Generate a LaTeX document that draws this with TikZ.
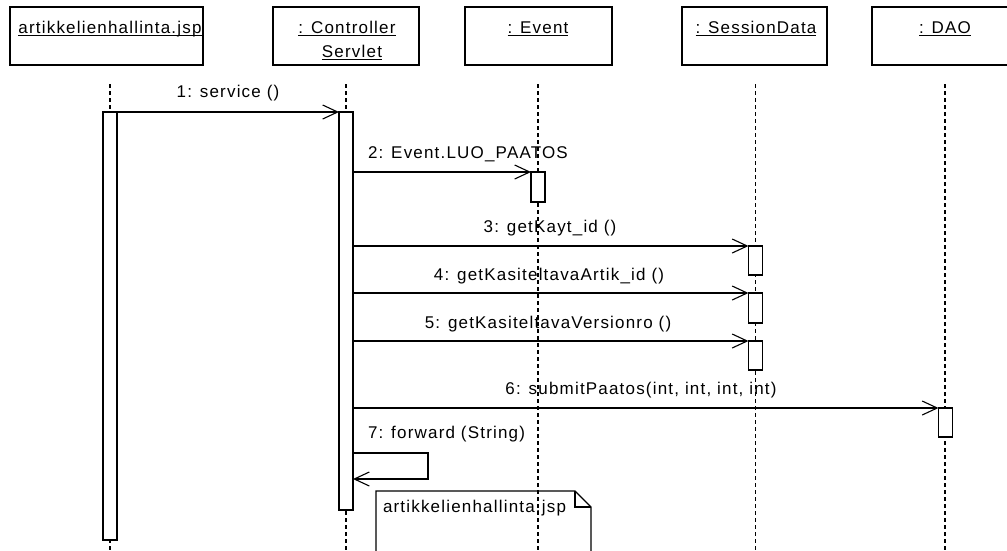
\documentclass[tikz,border=0pt]{standalone}
\usepackage{fontspec}
\newfontfamily\umlfont{Liberation Sans}[LetterSpace=7]
\usetikzlibrary{arrows.meta}
\begin{document}
\begin{tikzpicture}[x=1pt,y=-1pt,
  every node/.style={font=\umlfont\fontsize{17}{20}\selectfont, inner sep=0pt, outer sep=0pt},
  objbox/.style={draw, line width=1.1pt, minimum height=58pt},
  actbar/.style={draw, fill=white, line width=1.1pt, minimum width=14pt},
  lifeline/.style={line width=1.1pt, dash pattern=on 4pt off 3pt},
  msg/.style={line width=1.1pt, -{Straight Barb[length=15pt,width=14pt,line width=1.1pt]}},
  ulabel/.style={anchor=base},
  uline/.style={line width=0.9pt}]
% canvas
\fill[white] (0,0) rectangle (1007,550);
\clip (0,0) rectangle (1007,550);

% object boxes
\node[objbox, minimum width=193pt] (jspbox) at (106.5,36) {};
\node[objbox, minimum width=146pt] (csbox) at (346,36) {};
\node[objbox, minimum width=147pt] (evbox) at (538.5,36) {};
\node[objbox, minimum width=145pt] (sdbox) at (754.5,36) {};
\node[objbox, minimum width=146pt] (daobox) at (945,36) {};

% object names, underlined
\node[ulabel] (jspname) at (110,33) {artikkelienhallinta.jsp};
\node[ulabel] (csname1) at (347,33) {: Controller};
\node[ulabel] (csname2) at (352,57) {Servlet};
\node[ulabel] (evname) at (538,33) {: Event};
\node[ulabel] (sdname) at (756,33) {: SessionData};
\node[ulabel] (daoname) at (945,33) {: DAO};
\foreach \n in {jspname,csname1,csname2,evname,sdname,daoname}
  \draw[uline] ([yshift=-2.5pt]\n.base west) -- ([yshift=-2.5pt]\n.base east);

% lifelines
\coordinate (jspend) at (110,550);
\coordinate (csend) at (346,550);
\coordinate (evend) at (538,550);
\coordinate (sdend) at (755.5,550);
\coordinate (daoend) at (945,550);
\draw[lifeline] (110,84) -- (jspend);
\draw[lifeline] (346,84) -- (csend);
\draw[lifeline] (538,84) -- (evend);
\draw[lifeline] (755.5,84) -- (sdend);
\draw[lifeline] (945,84) -- (daoend);

% activation bars
\node[actbar, minimum height=428pt] (jspbar) at (110,326) {};
\node[actbar, minimum height=398pt] (csbar) at (346,311) {};
\node[actbar, minimum height=30pt] (evbar) at (538,187) {};
\node[actbar, minimum height=29pt] (sdbarA) at (755.5,260.5) {};
\node[actbar, minimum height=30pt] (sdbarB) at (755.5,308) {};
\node[actbar, minimum height=29pt] (sdbarC) at (755.5,355.5) {};
\node[actbar, minimum height=29pt] (daobar) at (945.5,422.5) {};

% messages
\draw[msg] (jspbar.north east) -- (csbar.north west);
\draw[msg] (csbar.east |- evbar.north) -- (evbar.north west);
\draw[msg] (csbar.east |- sdbarA.north) -- (sdbarA.north west);
\draw[msg] (csbar.east |- sdbarB.north) -- (sdbarB.north west);
\draw[msg] (csbar.east |- sdbarC.north) -- (sdbarC.north west);
\draw[msg] (csbar.east |- daobar.north) -- (daobar.north west);
\coordinate (fwdstart) at (353,453);
\coordinate (fwdend) at (353,479);
\draw[msg] (fwdstart) -- (428,453) -- (428,479) -- (fwdend);

% message labels
\node[ulabel] (l1) at (228,97) {1: service ()};
\node[anchor=base west] (l2) at (368,158) {2: Event.LUO\_PAATOS};
\node[ulabel] (l3) at (550,232) {3: getKayt\_id ()};
\node[ulabel] (l4) at (549,280) {4: getKasiteltavaArtik\_id ()};
\node[ulabel] (l5) at (548,328) {5: getKasiteltavaVersionro ()};
\node[ulabel] (l6) at (641,394) {6: submitPaatos(int, int, int, int)};
\node[anchor=base west] (l7) at (368,438) {7: forward (String)};

% note
\draw[line width=1.1pt] (376,560) -- (376,491) -- (575,491) -- (591,507) -- (591,560);
\draw[line width=1.1pt] (575,491) -- (575,507) -- (591,507);
\node[anchor=base west] (notetext) at (383,512) {artikkelienhallinta.jsp};
\end{tikzpicture}
\end{document}
